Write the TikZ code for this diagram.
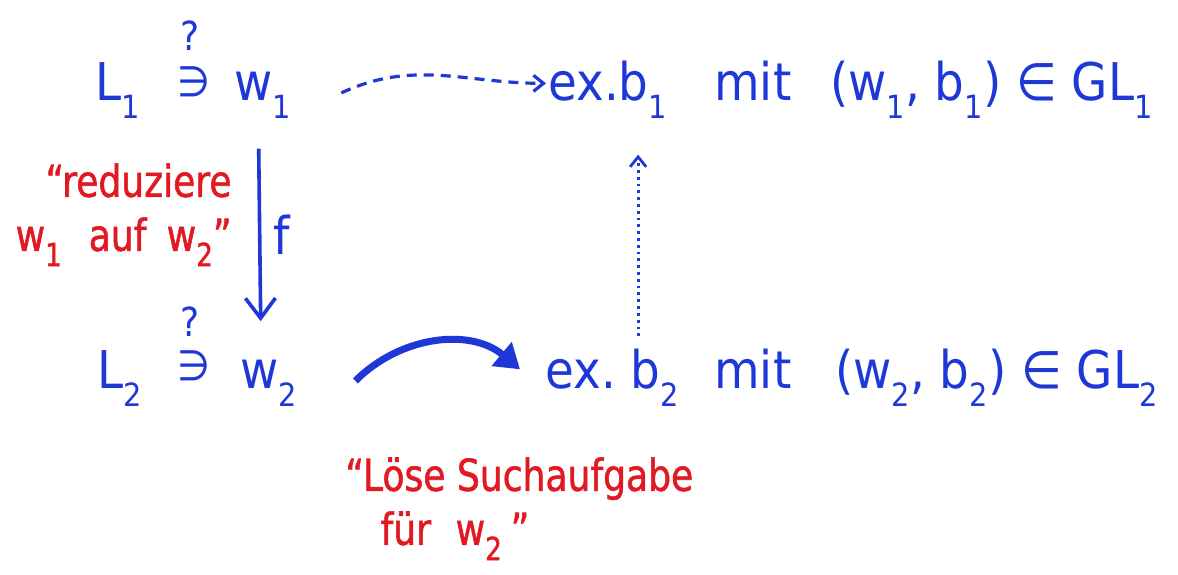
\documentclass[tikz,border=0pt]{standalone}
\usepackage{fontspec}
\setmainfont[FakeStretch=0.9]{DejaVu Sans}
\newfontfamily\redfont[FakeStretch=0.82,FakeBold=1.2]{DejaVu Sans}
\usetikzlibrary{arrows.meta,calc}
\definecolor{ink}{RGB}{30,55,215}
\definecolor{redink}{RGB}{225,25,35}
\newcommand\lo[1]{\raisebox{-0.35em}{\fontsize{16}{16}\selectfont #1}}
\begin{document}
\begin{tikzpicture}[x=0.5pt,y=-0.5pt,
  txt/.style={inner sep=0pt, text=ink, font=\fontsize{26}{30}\selectfont, anchor=base west},
  elem/.style={inner sep=0pt, text=ink, font=\fontsize{21}{24}\selectfont, anchor=base west},
  qmark/.style={inner sep=0pt, text=ink, font=\fontsize{20}{20}\selectfont},
  rtxt/.style={inner sep=0pt, text=redink, font=\redfont\fontsize{22}{27}\selectfont},
  conn/.style={draw=ink, line width=1.6pt},
]
\useasboundingbox[fill=white] (0,0) rectangle (1178,574);
% row 1
\node[txt] (L1) at (95,100) {L\lo{1}};
\node[elem] (ni1) at (177,96) {∋};
\node[qmark] (q1) at (190,36) {?};
\node[txt] (w1) at (234,100) {w\lo{1}};
\node[txt] (ex1) at (548,100) {ex.b\lo{1}};
\node[txt] (mit1) at (714,100) {mit};
\node[txt] (p1) at (830,100) {(w\lo{1}, b\lo{1}) ∈ GL\lo{1}};
% row 2
\node[txt] (L2) at (97,388) {L\lo{2}};
\node[elem] (ni2) at (177,380) {∋};
\node[qmark] (q2) at (190,322) {?};
\node[txt] (w2) at (240,388) {w\lo{2}};
\node[txt] (ex2) at (545,388) {ex.\ b\lo{2}};
\node[txt] (mit2) at (714,388) {mit};
\node[txt] (p2) at (835,388) {(w\lo{2}, b\lo{2}) ∈ GL\lo{2}};
% red labels
\node[rtxt, align=right, anchor=north east] (red1) at (232,163) {“reduziere\\w\lo{1}\hspace{0.35em} auf\hspace{0.2em} w\lo{2}”};
\node[rtxt, align=left, anchor=north west] (red2) at (345,457) {“Löse Suchaufgabe\\\hspace{0.8em}für\hspace{0.3em} w\lo{2}\hspace{0.2em}”};
% connectors
\draw[conn, dash pattern=on 5pt off 3.5pt, -{Straight Barb[length=5pt,width=8pt]}]
  ($(w1.east)+(50,-2)$) to[out=25,in=180] ($(ex1.west)+(-2,-6)$);
\draw[conn, line width=1.8pt, -{Straight Barb[length=10pt,width=15pt]}]
  ($(w1.south)+(-4,30)$) -- node[right=6pt, txt, anchor=west] (f) {f} ($(w2.north)+(-8,-38)$);
\coordinate (d0) at ($(ex2.north)+(26,-12)$);
\draw[conn, line width=1.4pt, dotted, -{Straight Barb[length=5pt,width=8pt]}]
  (d0) -- ($(d0 |- ex1.south)+(0,36)$);
\draw[draw=ink, line width=3.5pt, -{Triangle[length=12pt,width=15pt]}]
  ($(w2.east)+(58,-2)$) to[out=45,in=140] ($(ex2.west)+(-25,-8)$);
\end{tikzpicture}
\end{document}
